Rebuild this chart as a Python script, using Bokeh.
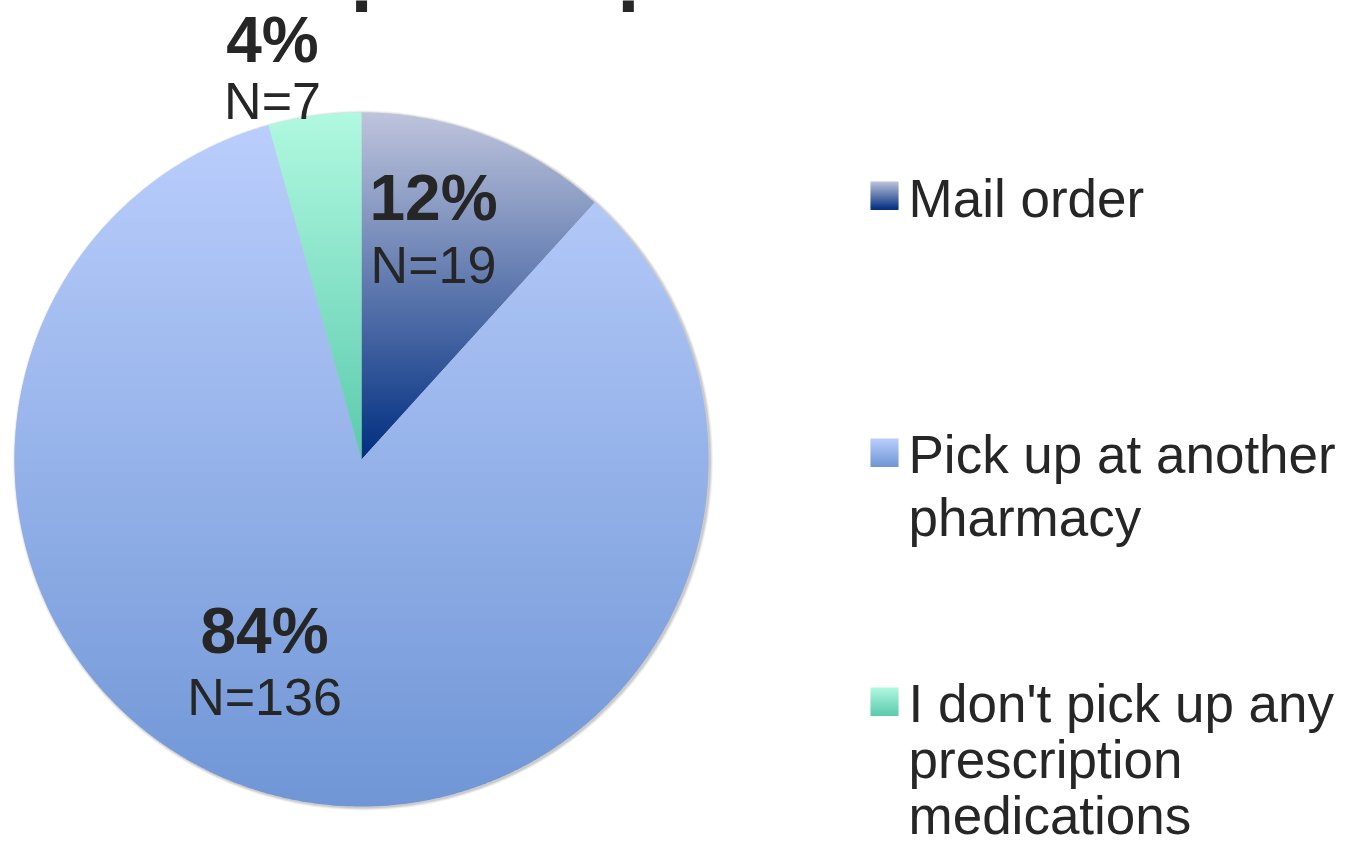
import numpy as np
from bokeh.plotting import figure
from bokeh.models import Range1d, ColumnDataSource
from bokeh.core.properties import value
from bokeh.embed import file_html
from bokeh.resources import INLINE

# ---------------- data ----------------
categories = ["Mail order",
              "Pick up at another\npharmacy",
              "I don't pick up any\nprescription\nmedications"]
counts = [19, 136, 7]
title_text = "prescription?"

# gradient palette (top colour, bottom colour) per slice
top_colors = [(190, 196, 220), (186, 206, 252), (176, 249, 224)]
bottom_colors = [(0, 46, 128), (112, 150, 214), (92, 202, 173)]

# ---------------- layout ----------------
W, H = 1335, 847
CX, CY, R = 361.0, 459.0, 347.0    # pie centre / radius (pixels)
TXT = "#262626"
FONT = "Liberation Sans"
BASE_FIX = 0.40                    # renderer places 'alphabetic' ~0.4em low

p = figure(width=W, height=H, x_range=Range1d(0, W), y_range=Range1d(H, 0),
           output_backend="svg", toolbar_location=None, min_border=0)
p.axis.visible = False
p.grid.visible = False
p.outline_line_color = None
p.background_fill_color = "white"
p.border_fill_color = "white"


def lerp(c0, c1, t):
    t = min(max(t, 0.0), 1.0)
    return "#%02x%02x%02x" % tuple(int(round(a + (b - a) * t)) for a, b in zip(c0, c1))


def clip(poly, y, keep_above):
    out = []
    n = len(poly)
    for i in range(n):
        a = poly[i]
        b = poly[(i + 1) % n]
        ina = (a[1] >= y) if keep_above else (a[1] <= y)
        inb = (b[1] >= y) if keep_above else (b[1] <= y)
        if ina:
            out.append(a)
        if ina != inb:
            t = (y - a[1]) / (b[1] - a[1])
            out.append((a[0] + t * (b[0] - a[0]), y))
    return out


# soft shadow
for dr, al in [(3.0, 0.05), (2.0, 0.07), (1.0, 0.09)]:
    p.circle(x=[CX + 1.5], y=[CY + 1.0], radius=R + dr, fill_color="black",
             fill_alpha=al, line_color=None)

total = float(sum(counts))
fracs = [c / total for c in counts]
starts = np.concatenate([[0.0], np.cumsum(fracs)[:-1]]) * 2 * np.pi
ends = np.cumsum(fracs) * 2 * np.pi

xs, ys, cols = [], [], []
for k in range(len(counts)):
    th = np.linspace(starts[k], ends[k], max(8, int((ends[k] - starts[k]) / np.radians(0.5))))
    poly = [(CX, CY)] + [(CX + R * np.sin(t), CY - R * np.cos(t)) for t in th]
    ymin = min(q[1] for q in poly)
    ymax = max(q[1] for q in poly)
    step = 2.0
    yy = ymin
    while yy < ymax:
        y1 = min(yy + step, ymax)
        part = clip(poly, yy, True)
        part = clip(part, y1 + 0.7, False) if part else part
        if len(part) >= 3:
            xs.append([q[0] for q in part])
            ys.append([q[1] for q in part])
            cols.append(lerp(top_colors[k], bottom_colors[k], ((yy + y1) / 2 - ymin) / (ymax - ymin)))
        yy = y1
src = ColumnDataSource(dict(xs=xs, ys=ys, c=cols))
p.patches("xs", "ys", source=src, fill_color="c", line_color=None)


def put_text(xv, yv, txt, size, bold=False, align="left"):
    p.text(x=xv, y=[v - BASE_FIX * size for v in yv], text=txt, text_font=value(FONT),
           text_font_style="bold" if bold else "normal", text_font_size="%dpx" % size,
           text_color=TXT, text_align=align, text_baseline="alphabetic")


# slice labels (percentage bold, count regular); y = desired baseline
pct = ["%d%%" % round(100 * f) for f in fracs]
ns = ["N=%d" % c for c in counts]
label_x = [433, 264, 272]
label_y = [223, 656, 65]
n_y = [285, 717, 121]
put_text(label_x, label_y, pct, 64, bold=True, align="center")
put_text(label_x, n_y, ns, 52, align="center")

# legend
leg_sq_y = [181, 438, 687]
leg_base = [219, 475, 724]
leg_step = [62, 63, 56]
LX = 870
SQ = 28
lx, ly, lc = [], [], []
for k in range(len(categories)):
    n = 14
    for i in range(n):
        y0 = leg_sq_y[k] + SQ * i / n
        y1 = leg_sq_y[k] + SQ * (i + 1) / n + 0.5
        lx.append([LX, LX + SQ, LX + SQ, LX])
        ly.append([y0, y0, y1, y1])
        lc.append(lerp(top_colors[k], bottom_colors[k], (i + 0.5) / n))
p.patches(xs=lx, ys=ly, fill_color=lc, line_color=None)

tx, ty, tt = [], [], []
for k, lab in enumerate(categories):
    for j, line in enumerate(lab.split("\n")):
        tx.append(908)
        ty.append(leg_base[k] + leg_step[k] * j)
        tt.append(line)
put_text(tx, ty, tt, 53)

# partially visible title (cut off at the top of the page, as in the source)
put_text([350], [-1], [title_text], 80, bold=True)

open("out.html", "w").write(file_html(p, INLINE))
